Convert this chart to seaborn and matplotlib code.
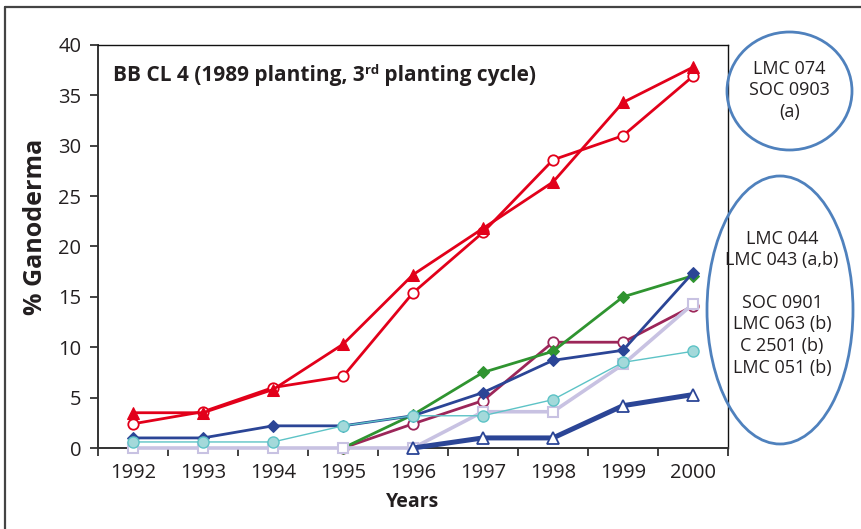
import matplotlib
matplotlib.use("Agg")
import matplotlib.pyplot as plt
from matplotlib.patches import Ellipse
from matplotlib.lines import Line2D
import numpy as np
import seaborn as sns

# Percentage of palms with Ganoderma, per year
years = [1992, 1993, 1994, 1995, 1996, 1997, 1998, 1999, 2000]
nan = np.nan
red_triangle = [3.5, 3.5, 5.8, 10.3, 17.2, 21.8, 26.4, 34.3, 37.8]
red_circle = [2.4, 3.6, 6.0, 7.1, 15.4, 21.4, 28.6, 31.0, 36.9]
navy_diamond = [1.0, 1.0, 2.2, 2.2, 3.2, 5.5, 8.7, 9.7, 17.4]
green_diamond = [nan, nan, nan, 0.0, 3.3, 7.5, 9.6, 15.0, 17.1]
maroon_circle = [nan, nan, nan, 0.0, 2.4, 4.7, 10.5, 10.5, 14.1]
lavender_square = [0.0, 0.0, 0.0, 0.0, 0.0, 3.6, 3.6, 8.3, 14.3]
cyan_circle = [0.6, 0.6, 0.6, 2.2, 3.2, 3.2, 4.8, 8.5, 9.6]
navy_triangle = [nan, nan, nan, nan, 0.0, 1.0, 1.0, 4.2, 5.3]

y_ticks = [0, 5, 10, 15, 20, 25, 30, 35, 40]
title_main = "BB CL 4 (1989 planting, 3"
title_sup = "rd"
title_end = " planting cycle)"
group_a = "LMC 074\nSOC 0903\n(a)"
group_b = "LMC 044\nLMC 043 (a,b)\n\nSOC 0901\nLMC 063 (b)\nC 2501 (b)\nLMC 051 (b)"

sns.set_theme(style="white")
plt.rcParams["font.family"] = ["Open Sans", "DejaVu Sans"]
TXT = "#231F20"

W, H = 862, 529
fig = plt.figure(figsize=(W / 100, H / 100), dpi=100)
ax = fig.add_axes([98 / W, 1 - 448 / H, (728 - 98) / W, (448 - 45) / H])

RED = "#E2001A"
NAVY = "#2B4596"
GREEN = "#2F9430"
MAROON = "#9C2659"
LAV = "#C8C2E2"
CYAN_LINE = "#5DC3C6"
CYAN_FILL = "#A3D9DA"

def draw(vals, **kw):
    sns.lineplot(x=years, y=vals, ax=ax, legend=False, clip_on=False, zorder=3, **kw)

draw(maroon_circle, color=MAROON, linewidth=2.0, marker="o", markersize=7.5,
     markerfacecolor="white", markeredgecolor=MAROON, markeredgewidth=1.3)
draw(green_diamond, color=GREEN, linewidth=2.0, marker="D", markersize=6,
     markerfacecolor=GREEN, markeredgecolor=GREEN)
draw(navy_diamond, color=NAVY, linewidth=2.0, marker="D", markersize=6,
     markerfacecolor=NAVY, markeredgecolor=NAVY)
draw(lavender_square, color=LAV, linewidth=2.6, marker="s", markersize=7.5,
     markerfacecolor="white", markeredgecolor=LAV, markeredgewidth=1.5)
draw(cyan_circle, color=CYAN_LINE, linewidth=1.0, marker="o", markersize=8,
     markerfacecolor=CYAN_FILL, markeredgecolor=CYAN_LINE, markeredgewidth=1.0)
draw(navy_triangle, color=NAVY, linewidth=3.6, marker="^", markersize=8,
     markerfacecolor="white", markeredgecolor=NAVY, markeredgewidth=1.3)
draw(red_circle, color=RED, linewidth=2.0, marker="o", markersize=7.5,
     markerfacecolor="white", markeredgecolor=RED, markeredgewidth=1.3)
draw(red_triangle, color=RED, linewidth=2.0, marker="^", markersize=9,
     markerfacecolor=RED, markeredgecolor=RED)

ax.set_xlim(1991.5, 2000.5)
ax.set_ylim(0, 40)
ax.set_xticks(years)
ax.set_xticklabels([str(y) for y in years])
ax.set_xticks(np.arange(1991.5, 2001.0, 1.0), minor=True)
ax.set_yticks(y_ticks)
ax.set_yticklabels([str(v) for v in y_ticks])
ax.tick_params(axis="x", which="major", length=0, pad=11, labelsize=14.5, labelcolor=TXT)
ax.tick_params(axis="x", which="minor", length=6, width=1.3, color="#333333",
               direction="out", bottom=True)
ax.tick_params(axis="y", which="major", length=6, width=1.3, color="#333333",
               direction="out", left=True, pad=6, labelsize=14.5, labelcolor=TXT)
for side in ("left", "bottom"):
    ax.spines[side].set_color("#333333")
    ax.spines[side].set_linewidth(1.4)
for side in ("top", "right"):
    ax.spines[side].set_color("#111111")
    ax.spines[side].set_linewidth(1.0)
ax.grid(False)

ax.set_xlabel("Years", fontsize=14, fontweight="bold", color=TXT)
ax.xaxis.set_label_coords(0.5, -(502 - 448) / 403)
ax.set_ylabel("% Ganoderma", fontsize=18, fontweight="bold", color=TXT)
ax.yaxis.set_label_coords(-(98 - 35) / 630, 1 - (227 - 45) / 403)
ax.yaxis.label.set_va("center")
ax.xaxis.label.set_va("center")

# Title inside the plot area, with superscript ordinal
t1 = ax.text(15 / 630, 1 - 30 / 403, title_main, transform=ax.transAxes,
             fontsize=15, fontweight="bold", color=TXT, va="center", ha="left")
t2 = ax.annotate(title_sup, xy=(1, 1), xycoords=t1, va="top", ha="left",
                 fontsize=9.5, fontweight="bold", color=TXT)
t3 = ax.annotate(title_end, xy=(1, 0), xycoords=(t2, t1), va="bottom", ha="left",
                 fontsize=15, fontweight="bold", color=TXT)

# Grouping ellipses on the right
ELL = "#4F81BD"
fig.patches.append(Ellipse((789.5 / W, 1 - 91 / H), 125 / W, 118 / H,
                           transform=fig.transFigure, fill=False,
                           edgecolor=ELL, linewidth=2.0, zorder=5))
fig.patches.append(Ellipse((780 / W, 1 - 310 / H), 146 / W, 268 / H,
                           transform=fig.transFigure, fill=False,
                           edgecolor=ELL, linewidth=2.0, zorder=5))
fig.text(789.5 / W, 1 - 90 / H, group_a, ha="center", va="center",
         fontsize=13, color=TXT, linespacing=1.25)
fig.text(782 / W, 1 - 303 / H, group_b, ha="center", va="center",
         fontsize=13, color=TXT, linespacing=1.25)

# Outer frame (left and top edges)
fig.lines.append(Line2D([5 / W, 5 / W], [0, 1 - 7 / H], transform=fig.transFigure,
                        color="#444444", linewidth=1.6))
fig.lines.append(Line2D([5 / W, 1], [1 - 7 / H, 1 - 7 / H], transform=fig.transFigure,
                        color="#444444", linewidth=1.6))

fig.savefig("out.png", dpi=100)
